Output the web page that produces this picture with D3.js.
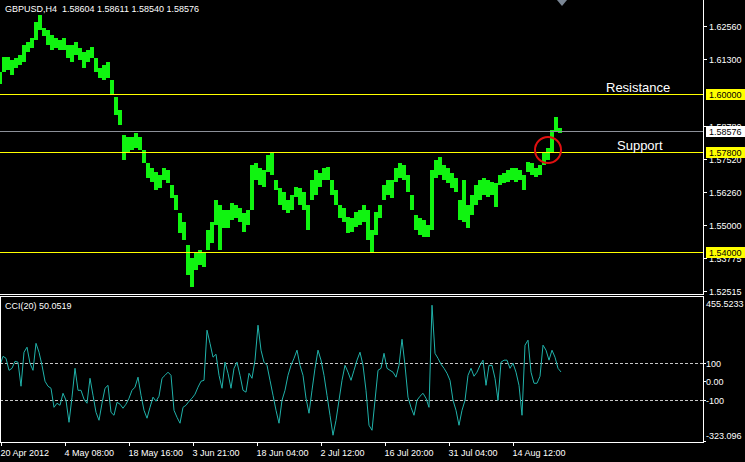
<!DOCTYPE html>
<html><head><meta charset="utf-8">
<script src="https://cdn.jsdelivr.net/npm/d3@7"></script>
<style>html,body{margin:0;padding:0;background:#000;overflow:hidden}text{font-family:"Liberation Sans",Arial,sans-serif}</style>
</head><body>
<svg id="c" width="745" height="462"></svg>
<script>
// ---------- data ----------
const titleText = "GBPUSD,H4  1.58604 1.58611 1.58540 1.58576";
const barStep = 4; // one sample every 4 H4 bars
const barHigh = [1.6082,1.6139,1.6139,1.6127,1.6135,1.6146,1.6184,1.6195,1.6211,1.6271,1.6298,1.6248,1.6241,1.6222,1.6211,1.6203,1.6211,1.6184,1.6184,1.6195,1.6173,1.6157,1.6165,1.6176,1.6135,1.6097,1.6108,1.6120,1.6051,1.5987,1.5938,1.5843,1.5835,1.5835,1.5851,1.5835,1.5786,1.5737,1.5718,1.5703,1.5691,1.5718,1.5710,1.5653,1.5615,1.5547,1.5513,1.5426,1.5377,1.5399,1.5407,1.5399,1.5483,1.5513,1.5597,1.5578,1.5559,1.5559,1.5585,1.5578,1.5566,1.5547,1.5559,1.5729,1.5737,1.5718,1.5710,1.5767,1.5778,1.5672,1.5642,1.5627,1.5597,1.5615,1.5646,1.5642,1.5627,1.5578,1.5672,1.5710,1.5699,1.5718,1.5722,1.5672,1.5634,1.5578,1.5566,1.5532,1.5528,1.5551,1.5559,1.5578,1.5559,1.5483,1.5551,1.5578,1.5653,1.5672,1.5672,1.5718,1.5737,1.5729,1.5691,1.5615,1.5540,1.5528,1.5521,1.5502,1.5710,1.5748,1.5759,1.5729,1.5718,1.5699,1.5680,1.5597,1.5672,1.5578,1.5615,1.5653,1.5672,1.5680,1.5672,1.5665,1.5661,1.5691,1.5699,1.5710,1.5718,1.5718,1.5710,1.5691,1.5741,1.5737,1.5718,1.5729,1.5778,1.5794,1.5862,1.5911,1.5869];
const barLow = [1.6036,1.6082,1.6089,1.6070,1.6097,1.6108,1.6120,1.6157,1.6173,1.6203,1.6241,1.6218,1.6184,1.6165,1.6173,1.6165,1.6165,1.6135,1.6120,1.6146,1.6127,1.6097,1.6120,1.6135,1.6082,1.6059,1.6051,1.6059,1.5994,1.5919,1.5881,1.5748,1.5778,1.5786,1.5794,1.5786,1.5737,1.5680,1.5665,1.5634,1.5642,1.5672,1.5661,1.5604,1.5559,1.5471,1.5445,1.5312,1.5267,1.5331,1.5350,1.5343,1.5407,1.5434,1.5502,1.5407,1.5490,1.5490,1.5521,1.5528,1.5513,1.5475,1.5502,1.5559,1.5672,1.5653,1.5646,1.5703,1.5691,1.5634,1.5578,1.5559,1.5547,1.5559,1.5608,1.5578,1.5559,1.5483,1.5597,1.5615,1.5646,1.5672,1.5672,1.5615,1.5578,1.5528,1.5513,1.5471,1.5475,1.5494,1.5502,1.5513,1.5445,1.5396,1.5464,1.5528,1.5597,1.5615,1.5604,1.5665,1.5680,1.5672,1.5627,1.5559,1.5483,1.5464,1.5456,1.5456,1.5483,1.5680,1.5691,1.5672,1.5661,1.5642,1.5627,1.5521,1.5513,1.5490,1.5540,1.5578,1.5597,1.5615,1.5608,1.5615,1.5570,1.5653,1.5661,1.5665,1.5672,1.5665,1.5672,1.5634,1.5703,1.5691,1.5684,1.5691,1.5729,1.5748,1.5778,1.5854,1.5851];
const cciStep = 3; // one CCI sample every 3 bars
const cciValues = [86,135,124,59,70,108,103,-27,157,184,97,59,205,157,86,0,-27,-38,-141,-119,-130,-65,-103,-222,-86,70,-49,-49,-97,-119,16,-76,-168,-211,-119,-38,-22,-168,-184,-114,-124,-146,-124,-92,-49,-32,22,-76,-157,-200,-141,-86,-108,-81,16,32,49,32,-157,-195,-227,-141,-130,-108,-92,-70,-32,0,5,276,205,130,146,32,-38,103,43,-38,70,103,32,-49,-59,43,16,114,303,168,103,86,5,-76,-157,-227,-103,-49,32,86,124,168,86,32,-92,-173,-49,70,168,114,32,-76,-184,-292,-211,-103,5,86,49,5,59,114,157,86,-49,-238,-265,-103,59,70,151,70,59,49,22,86,227,86,-86,-141,-184,-103,-81,-65,-92,-141,411,151,124,92,70,43,5,-103,-157,-238,-157,-103,32,70,27,49,86,114,-22,86,86,16,-103,103,114,114,70,97,49,-22,-184,195,222,49,-11,-11,27,195,168,114,168,130,70,50];
const cciTitle = "CCI(20) 50.0519";
const levelPrices = [1.60000, 1.57800, 1.54000];
const levelLabels = ["1.60000", "1.57800", "1.54000"];
const levelNames = [{name: "Resistance", price: 1.60000, x: 606}, {name: "Support", price: 1.57800, x: 617}];
const bidPrice = 1.58576;
const bidLabel = "1.58576";
const priceTicks = [1.62560, 1.61300, 1.58780, 1.57520, 1.56260, 1.55000, 1.53775, 1.52515];
const cciTicks = [455.5233, 100, 0, -100, -323.096];
const cciTickLabels = ["455.5233", "100", "0.00", "-100", "-323.096"];
const cciLevels = [100, -100];
const timeLabels = ["20 Apr 2012","4 May 08:00","18 May 16:00","3 Jun 21:00","18 Jun 04:00","2 Jul 12:00","16 Jul 20:00","31 Jul 04:00","14 Aug 12:00"];
const firstLabelBar = 1, barsPerLabel = 64;
const breakout = {bar: 548, price: 1.5786};

// ---------- layout ----------
const svg = d3.select("#c");
const plotR = 703, mainB = 294, cciT = 296, cciB = 442;
svg.append("rect").attr("width", 745).attr("height", 462).attr("fill", "#000");

const x = d3.scaleLinear().domain([0, plotR]).range([0, plotR]);
const y = d3.scaleLinear().domain([1.52401, 1.63546]).range([mainB, 0]);
const yC = d3.scaleLinear().domain([-323.096, 455.5233]).range([441, 297]);

const defs = svg.append("defs");
defs.append("clipPath").attr("id", "cm").append("rect").attr("x", 0).attr("y", 0).attr("width", plotR).attr("height", mainB);
defs.append("clipPath").attr("id", "cc").append("rect").attr("x", 1).attr("y", cciT + 1).attr("width", plotR - 1).attr("height", cciB - cciT - 1);

// main panel
const gm = svg.append("g").attr("clip-path", "url(#cm)");
gm.selectAll("rect.bar").data(barHigh).join("rect").attr("class", "bar")
  .attr("x", (d, i) => x(i * barStep) - barStep / 2)
  .attr("width", barStep)
  .attr("y", d => y(d))
  .attr("height", (d, i) => Math.max(1, y(barLow[i]) - y(d)))
  .attr("fill", "#10f410").attr("shape-rendering", "crispEdges");
gm.selectAll("line.lvl").data(levelPrices).join("line").attr("class", "lvl")
  .attr("x1", 0).attr("x2", plotR).attr("y1", d => Math.round(y(d)) + 0.5).attr("y2", d => Math.round(y(d)) + 0.5)
  .attr("stroke", "#ffff00").attr("stroke-width", 1);
gm.append("line").attr("x1", 0).attr("x2", plotR)
  .attr("y1", Math.round(y(bidPrice)) + 0.5).attr("y2", Math.round(y(bidPrice)) + 0.5)
  .attr("stroke", "#8c9099").attr("stroke-width", 1);

// red circle
svg.append("circle").attr("cx", x(breakout.bar)).attr("cy", y(breakout.price)).attr("r", 13)
  .attr("fill", "none").attr("stroke", "#e01010").attr("stroke-width", 2);

// level names
levelNames.forEach(l => {
  svg.append("text").attr("x", l.x).attr("y", y(l.price) - 1.5).attr("fill", "#fff")
    .attr("font-size", 13).text(l.name);
});

// title
svg.append("text").attr("x", 5).attr("y", 12).attr("fill", "#fff").attr("font-size", 9).attr("xml:space", "preserve").text(titleText);

// shift marker
svg.append("path").attr("d", "M557,0 L567,0 L562,6 Z").attr("fill", "#7a8694");

// borders
const white = "#fff";
svg.append("line").attr("x1", plotR + 0.5).attr("x2", plotR + 0.5).attr("y1", 0).attr("y2", mainB + 1).attr("stroke", white);
svg.append("line").attr("x1", 0).attr("x2", plotR + 1).attr("y1", mainB + 0.5).attr("y2", mainB + 0.5).attr("stroke", white);
svg.append("line").attr("x1", 0).attr("x2", plotR + 1).attr("y1", cciT + 0.5).attr("y2", cciT + 0.5).attr("stroke", white);
svg.append("line").attr("x1", 0.5).attr("x2", 0.5).attr("y1", cciT).attr("y2", cciB).attr("stroke", white);
svg.append("line").attr("x1", plotR + 0.5).attr("x2", plotR + 0.5).attr("y1", cciT).attr("y2", cciB).attr("stroke", white);
svg.append("line").attr("x1", 0).attr("x2", plotR + 1).attr("y1", cciB + 0.5).attr("y2", cciB + 0.5).attr("stroke", white);

// price axis
const pa = svg.append("g");
priceTicks.forEach(t => {
  const yy = Math.round(y(t)) + 0.5;
  pa.append("line").attr("x1", plotR).attr("x2", plotR + 4).attr("y1", yy).attr("y2", yy).attr("stroke", white);
  pa.append("text").attr("x", 709).attr("y", yy + 3.5).attr("fill", white).attr("font-size", 9).text(t.toFixed(5));
});
function boxLabel(p, label, fill) {
  const yy = Math.round(y(p));
  pa.append("rect").attr("x", 706).attr("y", yy - 5).attr("width", 39).attr("height", 11).attr("fill", fill);
  pa.append("text").attr("x", 709).attr("y", yy + 4).attr("fill", "#000").attr("font-size", 9).text(label);
}
levelPrices.forEach((p, i) => boxLabel(p, levelLabels[i], "#ffff00"));
boxLabel(bidPrice, bidLabel, "#ffffff");

// CCI panel
const gc = svg.append("g").attr("clip-path", "url(#cc)");
gc.selectAll("line.cl").data(cciLevels).join("line").attr("class", "cl")
  .attr("x1", 0).attr("x2", plotR).attr("y1", d => Math.round(yC(d)) + 0.5).attr("y2", d => Math.round(yC(d)) + 0.5)
  .attr("stroke", "#c8c8c8").attr("stroke-dasharray", "3,2");
gc.append("path").datum(cciValues)
  .attr("d", d3.line().x((d, i) => x(i * cciStep)).y(d => yC(d)))
  .attr("fill", "none").attr("stroke", "#20b2aa").attr("stroke-width", 1);
svg.append("text").attr("x", 5).attr("y", 309).attr("fill", white).attr("font-size", 9).text(cciTitle);
cciTicks.forEach((t, i) => {
  const yy = Math.round(yC(t)) + 0.5;
  const ty = i === 0 ? 307 : (i === cciTicks.length - 1 ? 439 : yy + 3.5);
  if (i > 0) svg.append("line").attr("x1", plotR).attr("x2", plotR + 3).attr("y1", yy).attr("y2", yy).attr("stroke", white);
  svg.append("text").attr("x", 706).attr("y", ty).attr("fill", white).attr("font-size", 9).text(cciTickLabels[i]);
});

// time axis
timeLabels.forEach((lab, i) => {
  const xx = Math.round(x(firstLabelBar + i * barsPerLabel)) + 0.5;
  svg.append("line").attr("x1", xx).attr("x2", xx).attr("y1", cciB).attr("y2", cciB + 4).attr("stroke", white);
  svg.append("text").attr("x", xx - 1).attr("y", 456).attr("fill", white).attr("font-size", 9).text(lab);
});
</script>
</body></html>
